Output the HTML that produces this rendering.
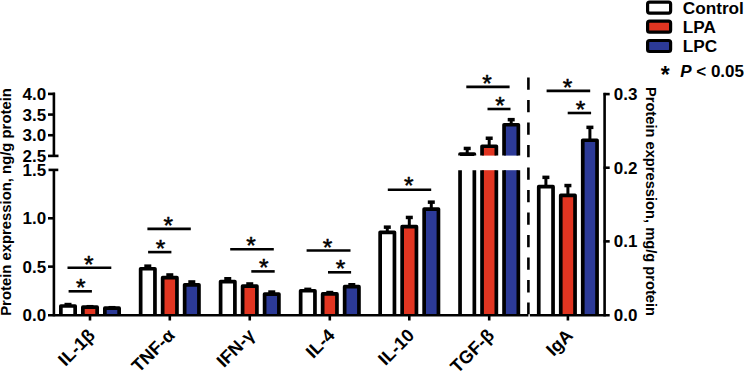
<!DOCTYPE html>
<html><head><meta charset="utf-8"><style>
html,body{margin:0;padding:0;background:#fff;width:744px;height:373px;overflow:hidden}
svg{display:block}
text{font-family:"Liberation Sans",sans-serif}
</style></head><body>
<svg width="744" height="373" viewBox="0 0 744 373" font-family="'Liberation Sans', sans-serif" fill="#000"><path d="M60.85,315.2 V306.0 H75.15 V315.2 Z" fill="#fff"/>
<path d="M60.85,315.2 V306.0 H75.15 V315.2" fill="none" stroke="#000" stroke-width="3.7" stroke-linejoin="round"/>
<line x1="68" y1="306.0" x2="68" y2="304.55" stroke="#000" stroke-width="3.0" />
<line x1="64.5" y1="304.55" x2="71.5" y2="304.55" stroke="#000" stroke-width="3.5" />
<path d="M82.85,315.2 V307.15 H97.15 V315.2 Z" fill="#e13521"/>
<path d="M82.85,315.2 V307.15 H97.15 V315.2" fill="none" stroke="#000" stroke-width="3.7" stroke-linejoin="round"/>
<line x1="90" y1="307.15" x2="90" y2="306.7" stroke="#000" stroke-width="3.0" />
<line x1="86.5" y1="306.7" x2="93.5" y2="306.7" stroke="#000" stroke-width="3.5" />
<path d="M104.85,315.2 V308.15 H119.15 V315.2 Z" fill="#2c3a97"/>
<path d="M104.85,315.2 V308.15 H119.15 V315.2" fill="none" stroke="#000" stroke-width="3.7" stroke-linejoin="round"/>
<line x1="112" y1="308.15" x2="112" y2="307.7" stroke="#000" stroke-width="3.0" />
<line x1="108.5" y1="307.7" x2="115.5" y2="307.7" stroke="#000" stroke-width="3.5" />
<path d="M140.65,315.2 V268.75 H154.95000000000002 V315.2 Z" fill="#fff"/>
<path d="M140.65,315.2 V268.75 H154.95000000000002 V315.2" fill="none" stroke="#000" stroke-width="3.7" stroke-linejoin="round"/>
<line x1="147.8" y1="268.75" x2="147.8" y2="266.15" stroke="#000" stroke-width="3.0" />
<line x1="144.3" y1="266.15" x2="151.3" y2="266.15" stroke="#000" stroke-width="3.5" />
<path d="M162.65,315.2 V277.65 H176.95000000000002 V315.2 Z" fill="#e13521"/>
<path d="M162.65,315.2 V277.65 H176.95000000000002 V315.2" fill="none" stroke="#000" stroke-width="3.7" stroke-linejoin="round"/>
<line x1="169.8" y1="277.65" x2="169.8" y2="274.95" stroke="#000" stroke-width="3.0" />
<line x1="166.3" y1="274.95" x2="173.3" y2="274.95" stroke="#000" stroke-width="3.5" />
<path d="M184.65,315.2 V284.85 H198.95000000000002 V315.2 Z" fill="#2c3a97"/>
<path d="M184.65,315.2 V284.85 H198.95000000000002 V315.2" fill="none" stroke="#000" stroke-width="3.7" stroke-linejoin="round"/>
<line x1="191.8" y1="284.85" x2="191.8" y2="281.95" stroke="#000" stroke-width="3.0" />
<line x1="188.3" y1="281.95" x2="195.3" y2="281.95" stroke="#000" stroke-width="3.5" />
<path d="M220.6,315.2 V281.55 H234.9 V315.2 Z" fill="#fff"/>
<path d="M220.6,315.2 V281.55 H234.9 V315.2" fill="none" stroke="#000" stroke-width="3.7" stroke-linejoin="round"/>
<line x1="227.75" y1="281.55" x2="227.75" y2="278.75" stroke="#000" stroke-width="3.0" />
<line x1="224.25" y1="278.75" x2="231.25" y2="278.75" stroke="#000" stroke-width="3.5" />
<path d="M242.6,315.2 V286.05 H256.9 V315.2 Z" fill="#e13521"/>
<path d="M242.6,315.2 V286.05 H256.9 V315.2" fill="none" stroke="#000" stroke-width="3.7" stroke-linejoin="round"/>
<line x1="249.75" y1="286.05" x2="249.75" y2="283.95" stroke="#000" stroke-width="3.0" />
<line x1="246.25" y1="283.95" x2="253.25" y2="283.95" stroke="#000" stroke-width="3.5" />
<path d="M264.6,315.2 V294.05 H278.9 V315.2 Z" fill="#2c3a97"/>
<path d="M264.6,315.2 V294.05 H278.9 V315.2" fill="none" stroke="#000" stroke-width="3.7" stroke-linejoin="round"/>
<line x1="271.75" y1="294.05" x2="271.75" y2="292.05" stroke="#000" stroke-width="3.0" />
<line x1="268.25" y1="292.05" x2="275.25" y2="292.05" stroke="#000" stroke-width="3.5" />
<path d="M300.65000000000003,315.2 V290.75 H314.95 V315.2 Z" fill="#fff"/>
<path d="M300.65000000000003,315.2 V290.75 H314.95 V315.2" fill="none" stroke="#000" stroke-width="3.7" stroke-linejoin="round"/>
<line x1="307.8" y1="290.75" x2="307.8" y2="289.35" stroke="#000" stroke-width="3.0" />
<line x1="304.3" y1="289.35" x2="311.3" y2="289.35" stroke="#000" stroke-width="3.5" />
<path d="M322.65000000000003,315.2 V293.95 H336.95 V315.2 Z" fill="#e13521"/>
<path d="M322.65000000000003,315.2 V293.95 H336.95 V315.2" fill="none" stroke="#000" stroke-width="3.7" stroke-linejoin="round"/>
<line x1="329.8" y1="293.95" x2="329.8" y2="292.55" stroke="#000" stroke-width="3.0" />
<line x1="326.3" y1="292.55" x2="333.3" y2="292.55" stroke="#000" stroke-width="3.5" />
<path d="M344.65000000000003,315.2 V286.65 H358.95 V315.2 Z" fill="#2c3a97"/>
<path d="M344.65000000000003,315.2 V286.65 H358.95 V315.2" fill="none" stroke="#000" stroke-width="3.7" stroke-linejoin="round"/>
<line x1="351.8" y1="286.65" x2="351.8" y2="284.75" stroke="#000" stroke-width="3.0" />
<line x1="348.3" y1="284.75" x2="355.3" y2="284.75" stroke="#000" stroke-width="3.5" />
<path d="M380.15000000000003,315.2 V232.35 H394.45 V315.2 Z" fill="#fff"/>
<path d="M380.15000000000003,315.2 V232.35 H394.45 V315.2" fill="none" stroke="#000" stroke-width="3.7" stroke-linejoin="round"/>
<line x1="387.3" y1="232.35" x2="387.3" y2="227.15" stroke="#000" stroke-width="3.0" />
<line x1="383.8" y1="227.15" x2="390.8" y2="227.15" stroke="#000" stroke-width="3.5" />
<path d="M402.15000000000003,315.2 V226.65 H416.45 V315.2 Z" fill="#e13521"/>
<path d="M402.15000000000003,315.2 V226.65 H416.45 V315.2" fill="none" stroke="#000" stroke-width="3.7" stroke-linejoin="round"/>
<line x1="409.3" y1="226.65" x2="409.3" y2="217.45" stroke="#000" stroke-width="3.0" />
<line x1="405.8" y1="217.45" x2="412.8" y2="217.45" stroke="#000" stroke-width="3.5" />
<path d="M424.15000000000003,315.2 V209.05 H438.45 V315.2 Z" fill="#2c3a97"/>
<path d="M424.15000000000003,315.2 V209.05 H438.45 V315.2" fill="none" stroke="#000" stroke-width="3.7" stroke-linejoin="round"/>
<line x1="431.3" y1="209.05" x2="431.3" y2="202.15" stroke="#000" stroke-width="3.0" />
<line x1="427.8" y1="202.15" x2="434.8" y2="202.15" stroke="#000" stroke-width="3.5" />
<path d="M460.05,155.6 V154.05 H474.34999999999997 V155.6" fill="#fff" stroke="#000" stroke-width="3.7" stroke-linejoin="round"/>
<rect x="460.05" y="170.2" width="14.3" height="145.0" fill="#fff"/>
<path d="M460.05,170.2 V315.2 M474.34999999999997,170.2 V315.2" fill="none" stroke="#000" stroke-width="3.7"/>
<line x1="467.2" y1="154.05" x2="467.2" y2="148.45" stroke="#000" stroke-width="3.0" />
<line x1="463.7" y1="148.45" x2="470.7" y2="148.45" stroke="#000" stroke-width="3.5" />
<path d="M482.05,155.6 V146.25 H496.34999999999997 V155.6" fill="#e13521" stroke="#000" stroke-width="3.7" stroke-linejoin="round"/>
<rect x="482.05" y="170.2" width="14.3" height="145.0" fill="#e13521"/>
<path d="M482.05,170.2 V315.2 M496.34999999999997,170.2 V315.2" fill="none" stroke="#000" stroke-width="3.7"/>
<line x1="489.2" y1="146.25" x2="489.2" y2="138.25" stroke="#000" stroke-width="3.0" />
<line x1="485.7" y1="138.25" x2="492.7" y2="138.25" stroke="#000" stroke-width="3.5" />
<path d="M504.05,155.6 V124.75 H518.35 V155.6" fill="#2c3a97" stroke="#000" stroke-width="3.7" stroke-linejoin="round"/>
<rect x="504.05" y="170.2" width="14.3" height="145.0" fill="#2c3a97"/>
<path d="M504.05,170.2 V315.2 M518.35,170.2 V315.2" fill="none" stroke="#000" stroke-width="3.7"/>
<line x1="511.2" y1="124.75" x2="511.2" y2="119.65" stroke="#000" stroke-width="3.0" />
<line x1="507.7" y1="119.65" x2="514.7" y2="119.65" stroke="#000" stroke-width="3.5" />
<path d="M538.75,315.2 V186.65 H553.05 V315.2 Z" fill="#fff"/>
<path d="M538.75,315.2 V186.65 H553.05 V315.2" fill="none" stroke="#000" stroke-width="3.7" stroke-linejoin="round"/>
<line x1="545.9" y1="186.65" x2="545.9" y2="177.35" stroke="#000" stroke-width="3.0" />
<line x1="542.4" y1="177.35" x2="549.4" y2="177.35" stroke="#000" stroke-width="3.5" />
<path d="M560.75,315.2 V195.45 H575.05 V315.2 Z" fill="#e13521"/>
<path d="M560.75,315.2 V195.45 H575.05 V315.2" fill="none" stroke="#000" stroke-width="3.7" stroke-linejoin="round"/>
<line x1="567.9" y1="195.45" x2="567.9" y2="185.55" stroke="#000" stroke-width="3.0" />
<line x1="564.4" y1="185.55" x2="571.4" y2="185.55" stroke="#000" stroke-width="3.5" />
<path d="M582.75,315.2 V140.25 H597.05 V315.2 Z" fill="#2c3a97"/>
<path d="M582.75,315.2 V140.25 H597.05 V315.2" fill="none" stroke="#000" stroke-width="3.7" stroke-linejoin="round"/>
<line x1="589.9" y1="140.25" x2="589.9" y2="127.35" stroke="#000" stroke-width="3.0" />
<line x1="586.4" y1="127.35" x2="593.4" y2="127.35" stroke="#000" stroke-width="3.5" />
<line x1="53.9" y1="92.65" x2="53.9" y2="155.9" stroke="#000" stroke-width="2.6" />
<line x1="48" y1="93.9" x2="55" y2="93.9" stroke="#000" stroke-width="2.6" />
<line x1="48" y1="114.57" x2="55" y2="114.57" stroke="#000" stroke-width="2.6" />
<line x1="48" y1="135.23" x2="55" y2="135.23" stroke="#000" stroke-width="2.6" />
<line x1="48" y1="155.9" x2="58.5" y2="155.9" stroke="#000" stroke-width="2.6" />
<line x1="53.9" y1="169.9" x2="53.9" y2="316.3" stroke="#000" stroke-width="2.6" />
<line x1="48.5" y1="169.9" x2="58.3" y2="169.9" stroke="#000" stroke-width="2.6" />
<line x1="48" y1="218.27" x2="55" y2="218.27" stroke="#000" stroke-width="2.6" />
<line x1="48" y1="266.63" x2="55" y2="266.63" stroke="#000" stroke-width="2.6" />
<line x1="48" y1="315.2" x2="528.4" y2="315.2" stroke="#000" stroke-width="2.6" />
<line x1="90" y1="315" x2="90" y2="320.5" stroke="#000" stroke-width="2.6" />
<line x1="169.8" y1="315" x2="169.8" y2="320.5" stroke="#000" stroke-width="2.6" />
<line x1="249.75" y1="315" x2="249.75" y2="320.5" stroke="#000" stroke-width="2.6" />
<line x1="329.8" y1="315" x2="329.8" y2="320.5" stroke="#000" stroke-width="2.6" />
<line x1="409.3" y1="315" x2="409.3" y2="320.5" stroke="#000" stroke-width="2.6" />
<line x1="489.2" y1="315" x2="489.2" y2="320.5" stroke="#000" stroke-width="2.6" />
<line x1="567.9" y1="315" x2="567.9" y2="320.5" stroke="#000" stroke-width="2.6" />
<line x1="529.8" y1="315.2" x2="609.7" y2="315.2" stroke="#000" stroke-width="2.6" />
<line x1="604.6" y1="92.85" x2="604.6" y2="316.4" stroke="#000" stroke-width="2.6" />
<line x1="603.6" y1="94.1" x2="609.7" y2="94.1" stroke="#000" stroke-width="2.6" />
<line x1="603.6" y1="167.73" x2="609.7" y2="167.73" stroke="#000" stroke-width="2.6" />
<line x1="603.6" y1="241.37" x2="609.7" y2="241.37" stroke="#000" stroke-width="2.6" />
<line x1="528.4" y1="77.4" x2="528.4" y2="314.3" stroke="#000" stroke-width="2.6" stroke-dasharray="12.3 10.22"/>
<line x1="67.5" y1="267.8" x2="111.3" y2="267.8" stroke="#000" stroke-width="2.6" />
<text x="88.70" y="272.80" font-size="24.5" text-anchor="middle" stroke="#000" stroke-width="0.5">*</text>
<line x1="68.60000000000001" y1="291.3" x2="91.89999999999999" y2="291.3" stroke="#000" stroke-width="2.6" />
<text x="80.80" y="295.70" font-size="24.5" text-anchor="middle" stroke="#000" stroke-width="0.5">*</text>
<line x1="147.4" y1="228.9" x2="190.79999999999998" y2="228.9" stroke="#000" stroke-width="2.6" />
<text x="168.20" y="234.20" font-size="24.5" text-anchor="middle" stroke="#000" stroke-width="0.5">*</text>
<line x1="148.1" y1="252.1" x2="171.4" y2="252.1" stroke="#000" stroke-width="2.6" />
<text x="160.60" y="256.60" font-size="24.5" text-anchor="middle" stroke="#000" stroke-width="0.5">*</text>
<line x1="230.20000000000002" y1="249.2" x2="273.8" y2="249.2" stroke="#000" stroke-width="2.6" />
<text x="250.90" y="253.90" font-size="24.5" text-anchor="middle" stroke="#000" stroke-width="0.5">*</text>
<line x1="251.3" y1="271.4" x2="274.70000000000005" y2="271.4" stroke="#000" stroke-width="2.6" />
<text x="263.80" y="276.00" font-size="24.5" text-anchor="middle" stroke="#000" stroke-width="0.5">*</text>
<line x1="306.59999999999997" y1="250.5" x2="350.5" y2="250.5" stroke="#000" stroke-width="2.6" />
<text x="327.50" y="255.60" font-size="24.5" text-anchor="middle" stroke="#000" stroke-width="0.5">*</text>
<line x1="328.0" y1="272.3" x2="351.1" y2="272.3" stroke="#000" stroke-width="2.6" />
<text x="340.40" y="277.20" font-size="24.5" text-anchor="middle" stroke="#000" stroke-width="0.5">*</text>
<line x1="387.79999999999995" y1="189.7" x2="431.20000000000005" y2="189.7" stroke="#000" stroke-width="2.6" />
<text x="408.80" y="194.30" font-size="24.5" text-anchor="middle" stroke="#000" stroke-width="0.5">*</text>
<line x1="466.29999999999995" y1="86.9" x2="509.6" y2="86.9" stroke="#000" stroke-width="2.6" />
<text x="487.10" y="91.70" font-size="24.5" text-anchor="middle" stroke="#000" stroke-width="0.5">*</text>
<line x1="487.5" y1="109" x2="510.5" y2="109" stroke="#000" stroke-width="2.6" />
<text x="499.90" y="113.60" font-size="24.5" text-anchor="middle" stroke="#000" stroke-width="0.5">*</text>
<line x1="546.6" y1="90.9" x2="590.2" y2="90.9" stroke="#000" stroke-width="2.6" />
<text x="567.50" y="95.90" font-size="24.5" text-anchor="middle" stroke="#000" stroke-width="0.5">*</text>
<line x1="567.6999999999999" y1="113" x2="591.1" y2="113" stroke="#000" stroke-width="2.6" />
<text x="580.40" y="117.70" font-size="24.5" text-anchor="middle" stroke="#000" stroke-width="0.5">*</text>
<text x="46.2" y="99.9" font-size="17" font-weight="bold" text-anchor="end">4.0</text>
<text x="46.2" y="120.6" font-size="17" font-weight="bold" text-anchor="end">3.5</text>
<text x="46.2" y="141.2" font-size="17" font-weight="bold" text-anchor="end">3.0</text>
<text x="46.2" y="161.9" font-size="17" font-weight="bold" text-anchor="end">2.5</text>
<text x="46.2" y="175.9" font-size="17" font-weight="bold" text-anchor="end">1.5</text>
<text x="46.2" y="224.3" font-size="17" font-weight="bold" text-anchor="end">1.0</text>
<text x="46.2" y="272.6" font-size="17" font-weight="bold" text-anchor="end">0.5</text>
<text x="46.2" y="321.0" font-size="17" font-weight="bold" text-anchor="end">0.0</text>
<text x="613.8" y="100.1" font-size="17" font-weight="bold">0.3</text>
<text x="613.8" y="173.7" font-size="17" font-weight="bold">0.2</text>
<text x="613.8" y="247.4" font-size="17" font-weight="bold">0.1</text>
<text x="613.8" y="321.0" font-size="17" font-weight="bold">0.0</text>
<text transform="translate(11,315.8) rotate(-90)" font-size="14.85" font-weight="bold">Protein expression, ng/g protein</text>
<text transform="translate(645.5,86.9) rotate(90)" font-size="14.68" font-weight="bold">Protein expression, mg/g protein</text>
<text transform="translate(96,336.5) rotate(-45)" font-size="18" font-weight="bold" text-anchor="end">IL-1β</text>
<text transform="translate(175.8,336.5) rotate(-45)" font-size="18" font-weight="bold" text-anchor="end">TNF-α</text>
<text transform="translate(255.75,336.5) rotate(-45)" font-size="18" font-weight="bold" text-anchor="end">IFN-γ</text>
<text transform="translate(335.8,336.5) rotate(-45)" font-size="18" font-weight="bold" text-anchor="end">IL-4</text>
<text transform="translate(415.3,336.5) rotate(-45)" font-size="18" font-weight="bold" text-anchor="end">IL-10</text>
<text transform="translate(495.2,336.5) rotate(-45)" font-size="18" font-weight="bold" text-anchor="end">TGF-β</text>
<text transform="translate(573.9,336.5) rotate(-45)" font-size="18" font-weight="bold" text-anchor="end">IgA</text>
<rect x="647.6" y="2.1" width="23.0" height="11.0" fill="#fff" stroke="#000" stroke-width="3.2" rx="2"/>
<text x="682.8" y="13.9" font-size="17.2" font-weight="bold">Control</text>
<rect x="647.6" y="21.200000000000003" width="23.0" height="11.0" fill="#e13521" stroke="#000" stroke-width="3.2" rx="2"/>
<text x="682.8" y="33.0" font-size="17.2" font-weight="bold">LPA</text>
<rect x="647.6" y="40.5" width="23.0" height="11.0" fill="#2c3a97" stroke="#000" stroke-width="3.2" rx="2"/>
<text x="682.8" y="52.3" font-size="17.2" font-weight="bold">LPC</text>
<text x="665.3" y="82.6" font-size="23" font-weight="bold" text-anchor="middle">*</text>
<text x="680.2" y="76.8" font-size="17" font-weight="bold"><tspan font-style="italic">P</tspan> &lt; 0.05</text></svg>
</body></html>
